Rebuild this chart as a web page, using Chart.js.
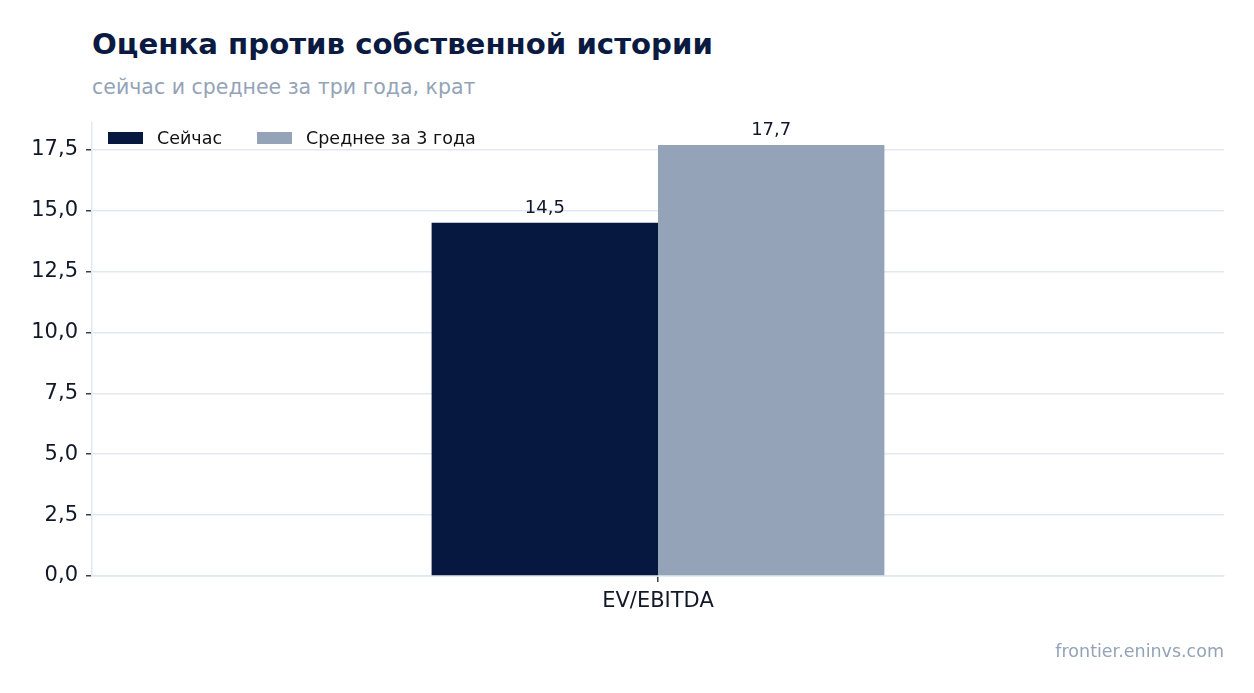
<!DOCTYPE html>
<html lang="ru">
<head>
<meta charset="utf-8">
<script src="https://cdn.jsdelivr.net/npm/chart.js@4.4.1/dist/chart.umd.min.js"></script>
<style>
  html, body { margin: 0; padding: 0; background: #fff; }
  body { width: 1254px; height: 693px; position: relative; overflow: hidden; font-family: "DejaVu Sans", sans-serif; }
  #wrap { position: absolute; left: 0; top: 0; width: 1254px; height: 693px; }
  .title { position: absolute; left: 92px; top: 28px; font-size: 29.2px; font-weight: bold; color: #0a1a40; line-height: 1.1; white-space: nowrap; }
  .subtitle { position: absolute; left: 92px; top: 76px; font-size: 20.5px; color: #94a3b8; line-height: 1.1; white-space: nowrap; }
  .source { position: absolute; right: 30px; top: 642px; font-size: 17.5px; color: #94a3b8; line-height: 1.1; }
  #legend { position: absolute; left: 108px; top: 128px; display: flex; align-items: center; font-size: 17.5px; color: #111; white-space: nowrap; }
  #legend .item { display: flex; align-items: center; margin-right: 35px; }
  #legend .box { width: 35px; height: 12px; margin-right: 14px; }
</style>
</head>
<body>
<div class="title">Оценка против собственной истории</div>
<div class="subtitle">сейчас и среднее за три года, крат</div>
<div id="wrap"><canvas id="chart"></canvas></div>
<div id="legend"></div>
<div class="source">frontier.eninvs.com</div>
<script>
// Data
const categories = ["EV/EBITDA"];
const nowValues = [14.5];
const avgValues = [17.7];
const seriesNames = ["Сейчас", "Среднее за 3 года"];
const seriesColors = ["#061740", "#94a3b8"];

const fmt = (v) => v.toFixed(1).replace(".", ",");

// Value labels above each bar
const barLabels = {
  id: "barLabels",
  afterDatasetsDraw(chart) {
    const ctx = chart.ctx;
    ctx.save();
    ctx.font = "18px 'DejaVu Sans'";
    ctx.fillStyle = "#111827";
    ctx.textAlign = "center";
    ctx.textBaseline = "bottom";
    chart.data.datasets.forEach((ds, i) => {
      chart.getDatasetMeta(i).data.forEach((bar, j) => {
        ctx.fillText(fmt(ds.data[j]), bar.x, bar.y - 6);
      });
    });
    ctx.restore();
  },
};

const chart = new Chart(document.getElementById("chart"), {
  type: "bar",
  data: {
    labels: categories,
    datasets: [
      { label: seriesNames[0], data: nowValues, backgroundColor: seriesColors[0] },
      { label: seriesNames[1], data: avgValues, backgroundColor: seriesColors[1] },
    ],
  },
  options: {
    responsive: true,
    maintainAspectRatio: false,
    animation: false,
    categoryPercentage: 0.4,
    barPercentage: 1.0,
    layout: { padding: { top: 123, right: 30, left: 0, bottom: 0 } },
    plugins: {
      legend: { display: false },
      tooltip: { enabled: false },
    },
    scales: {
      x: {
        afterFit: (s) => { s.height = 117; },
        grid: { offset: false, drawOnChartArea: false, tickLength: 6, tickColor: "#334155", lineWidth: 1.5 },
        border: { color: "#e2e8f0", width: 1.5 },
        ticks: { padding: 7, color: "#111827", font: { family: "DejaVu Sans", size: 21 } },
      },
      y: {
        min: 0,
        max: 18.6,
        afterFit: (s) => { s.width = 92; },
        afterBuildTicks: (s) => { s.ticks = s.ticks.filter((t) => Math.abs(t.value / 2.5 - Math.round(t.value / 2.5)) < 1e-6); },
        grid: { color: "#e2e8f0", lineWidth: 1.5, tickLength: 6, tickColor: "#334155" },
        border: { color: "#e2e8f0", width: 1.5 },
        ticks: {
          stepSize: 2.5,
          padding: 8,
          color: "#111827",
          font: { family: "DejaVu Sans", size: 21 },
          callback: (v) => fmt(v),
        },
      },
    },
  },
  plugins: [barLabels],
});

// Legend built from the same series names and colours
const legendEl = document.getElementById("legend");
chart.data.datasets.forEach((ds) => {
  const item = document.createElement("div");
  item.className = "item";
  const box = document.createElement("span");
  box.className = "box";
  box.style.background = ds.backgroundColor;
  const label = document.createElement("span");
  label.textContent = ds.label;
  item.appendChild(box);
  item.appendChild(label);
  legendEl.appendChild(item);
});
</script>
</body>
</html>
